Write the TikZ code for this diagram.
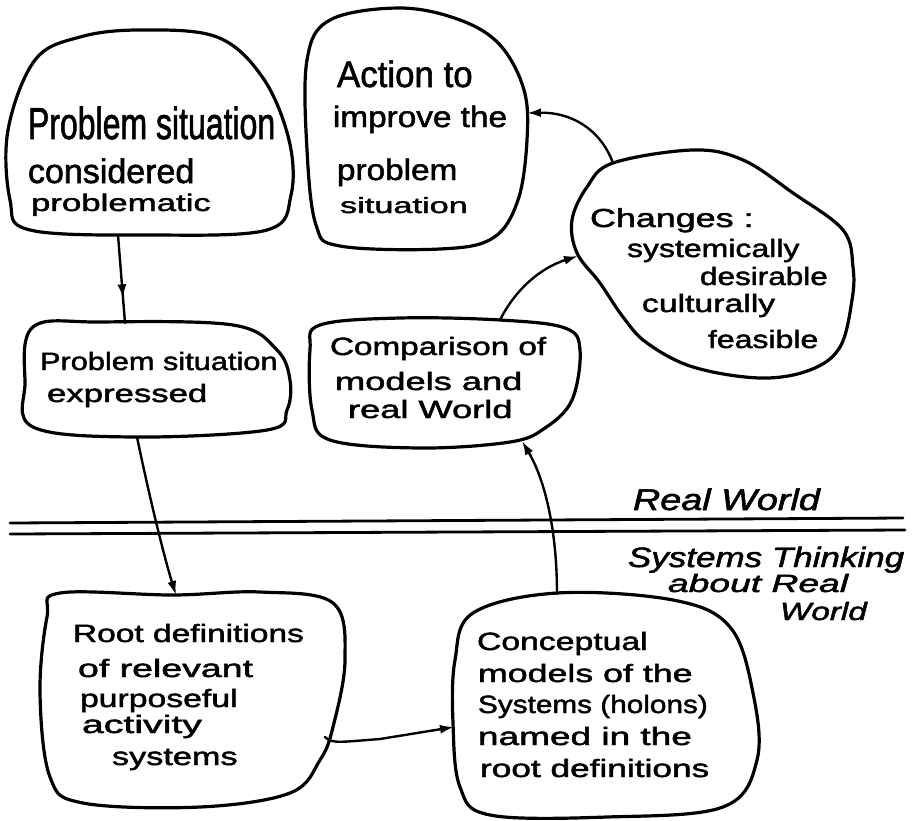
\documentclass[tikz,border=0pt]{standalone}
\usepackage{fontspec}
\setmainfont{Liberation Sans}[FakeBold=1.6]
\usetikzlibrary{arrows.meta,decorations.markings}

% one hand-lettered line: x-scale, y-scale, font size, text
\newcommand{\hw}[4]{\scalebox{#1}[#2]{\fontsize{#3}{#3}\selectfont #4}}

\tikzset{
  blob/.style={line width=3.2pt, line join=round, line cap=round},
  flow/.style={line width=2.4pt, line cap=round, -{Latex[length=14pt,width=9pt]}},
  midflow/.style={line width=2.4pt, line cap=round,
    postaction={decorate},
    decoration={markings, mark=at position 0.72 with {\arrow{Latex[length=14pt,width=9pt]}}}},
  divider/.style={line width=2.8pt, line cap=round},
  txt/.style={anchor=base west, inner sep=0pt, outer sep=0pt},
}

\begin{document}
\begin{tikzpicture}[x=1pt,y=-1pt]
\useasboundingbox (0,0) rectangle (913,820);

% ---------- outlines ----------
% problem situation considered problematic
\draw[blob] plot[smooth cycle, tension=0.6] coordinates {
  (140,30) (217,37) (263,78) (289,140) (291,195) (267,230) (150,235)
  (30,230) (10,200) (8,130) (35,60) (80,37)};
% action to improve
\draw[blob] plot[smooth cycle, tension=0.6] coordinates {
  (400,8) (460,20) (500,45) (524,90) (527,140) (518,200) (493,238)
  (440,249) (340,246) (316,225) (307,150) (307,60) (330,20)};
% changes
\draw[blob] plot[smooth cycle, tension=0.6] coordinates {
  (693,150) (743,160) (793,193) (843,230) (853,267) (852,300) (840,347)
  (810,370) (760,378) (693,367) (647,343) (623,317) (600,283) (577,253)
  (572,220) (587,187) (613,163)};
% comparison
\draw[blob] plot[smooth cycle, tension=0.6] coordinates {
  (320,325) (400,318) (500,320) (565,328) (580,350) (572,400) (545,428)
  (510,442) (420,448) (330,440) (312,410) (310,350)};
% problem situation expressed
\draw[blob] plot[smooth cycle, tension=0.6] coordinates {
  (33,327) (100,322) (233,325) (277,350) (290,380) (287,410) (267,430)
  (133,437) (33,427) (25,383)};
% root definitions
\draw[blob] plot[smooth cycle, tension=0.6] coordinates {
  (60,593) (173,595) (260,592) (333,603) (345,660) (333,727) (320,760)
  (290,793) (200,807) (83,803) (50,777) (40,693) (47,617)};
% conceptual models
\draw[blob] plot[smooth cycle, tension=0.6] coordinates {
  (557,593) (673,600) (730,627) (753,693) (757,760) (723,807) (607,817)
  (490,815) (460,787) (453,723) (455,660) (473,613)};

% ---------- attachment points ----------
\coordinate (psc-s) at (118,235);
\coordinate (pse-n) at (125,323);
\coordinate (pse-s) at (137,437);
\coordinate (rd-n)  at (176,595);
\coordinate (rd-e)  at (325,737);
\coordinate (cm-w)  at (454,727);
\coordinate (cm-n)  at (557,594);
\coordinate (cp-s)  at (522,441);
\coordinate (cp-n)  at (500,320);
\coordinate (ch-w)  at (578,256);
\coordinate (ch-n)  at (613,163);
\coordinate (ac-e)  at (527,113);

% ---------- connectors ----------
\draw[midflow] (psc-s) -- (pse-n);
\draw[flow] (pse-s) .. controls (150,500) and (165,560) .. (rd-n);
\draw[flow] (rd-e) .. controls (332,744) and (340,742) .. (380,739) -- (cm-w);
\draw[flow] (cm-n) .. controls (557,530) and (545,480) .. (cp-s);
\draw[flow] (cp-n) .. controls (515,290) and (540,268) .. (ch-w);
\draw[flow] (ch-n) .. controls (600,128) and (570,112) .. (ac-e);

% ---------- divider between the two worlds ----------
\coordinate (d1a) at (10,523);  \coordinate (d1b) at (903,518);
\coordinate (d2a) at (10,534);  \coordinate (d2b) at (905,530);
\draw[divider] (d1a) -- (d1b);
\draw[divider] (d2a) -- (d2b);

% ---------- texts ----------
\node[txt] (t1a) at (28,139) {\hw{1.0}{1.4}{32}{Problem situation}};
\node[txt] (t1b) at (28,183) {\hw{1.0}{1.0}{34}{considered}};
\node[txt] (t1c) at (31,211) {\hw{1.45}{1.0}{24}{problematic}};

\node[txt] (t2a) at (337,87)  {\hw{1.09}{1.15}{32}{Action to}};
\node[txt] (t2b) at (333,127) {\hw{1.19}{1.05}{28}{improve the}};
\node[txt] (t2c) at (337,180) {\hw{1.19}{1.05}{28}{problem}};
\node[txt] (t2d) at (340,213) {\hw{1.56}{1.0}{22}{situation}};

\node[txt] (t3a) at (590,227) {\hw{1.38}{1.0}{26}{Changes :}};
\node[txt] (t3b) at (627,257) {\hw{1.28}{1.0}{25}{systemically}};
\node[txt] (t3c) at (700,285) {\hw{1.26}{1.0}{25}{desirable}};
\node[txt] (t3d) at (642,312) {\hw{1.35}{1.0}{25}{culturally}};
\node[txt] (t3e) at (708,348) {\hw{1.28}{1.0}{25}{feasible}};

\node[txt] (t4a) at (330,355) {\hw{1.33}{1.0}{25}{Comparison of}};
\node[txt] (t4b) at (335,390) {\hw{1.45}{1.0}{25}{models and}};
\node[txt] (t4c) at (348,418) {\hw{1.45}{1.0}{25}{real World}};

\node[txt] (t5a) at (40,370) {\hw{1.23}{1.0}{25}{Problem situation}};
\node[txt] (t5b) at (47,402) {\hw{1.39}{1.0}{25}{expressed}};

\node[txt] (t6a) at (73,642) {\hw{1.34}{1.0}{25}{Root definitions}};
\node[txt] (t6b) at (78,677) {\hw{1.5}{1.0}{25}{of relevant}};
\node[txt] (t6c) at (80,707) {\hw{1.35}{1.0}{25}{purposeful}};
\node[txt] (t6d) at (82,733) {\hw{1.57}{1.0}{25}{activity}};
\node[txt] (t6e) at (112,765) {\hw{1.37}{1.0}{25}{systems}};

\node[txt] (t7a) at (477,650) {\hw{1.35}{1.0}{25}{Conceptual}};
\node[txt] (t7b) at (478,682) {\hw{1.43}{1.0}{25}{models of the}};
\node[txt] (t7c) at (478,713) {\hw{1.19}{1.0}{25}{Systems (holons)}};
\node[txt] (t7d) at (478,745) {\hw{1.48}{1.0}{25}{named in the}};
\node[txt] (t7e) at (480,777) {\hw{1.41}{1.0}{25}{root definitions}};

\node[txt] (rw)  at (633,510) {\hw{1.26}{1.0}{30}{\itshape Real World}};
\node[txt] (st1) at (628,567) {\hw{1.25}{1.0}{28}{\itshape Systems Thinking}};
\node[txt] (st2) at (668,592) {\hw{1.49}{1.0}{25}{\itshape about Real}};
\node[txt] (st3) at (780,620) {\hw{1.33}{1.0}{25}{\itshape World}};
\end{tikzpicture}
\end{document}
